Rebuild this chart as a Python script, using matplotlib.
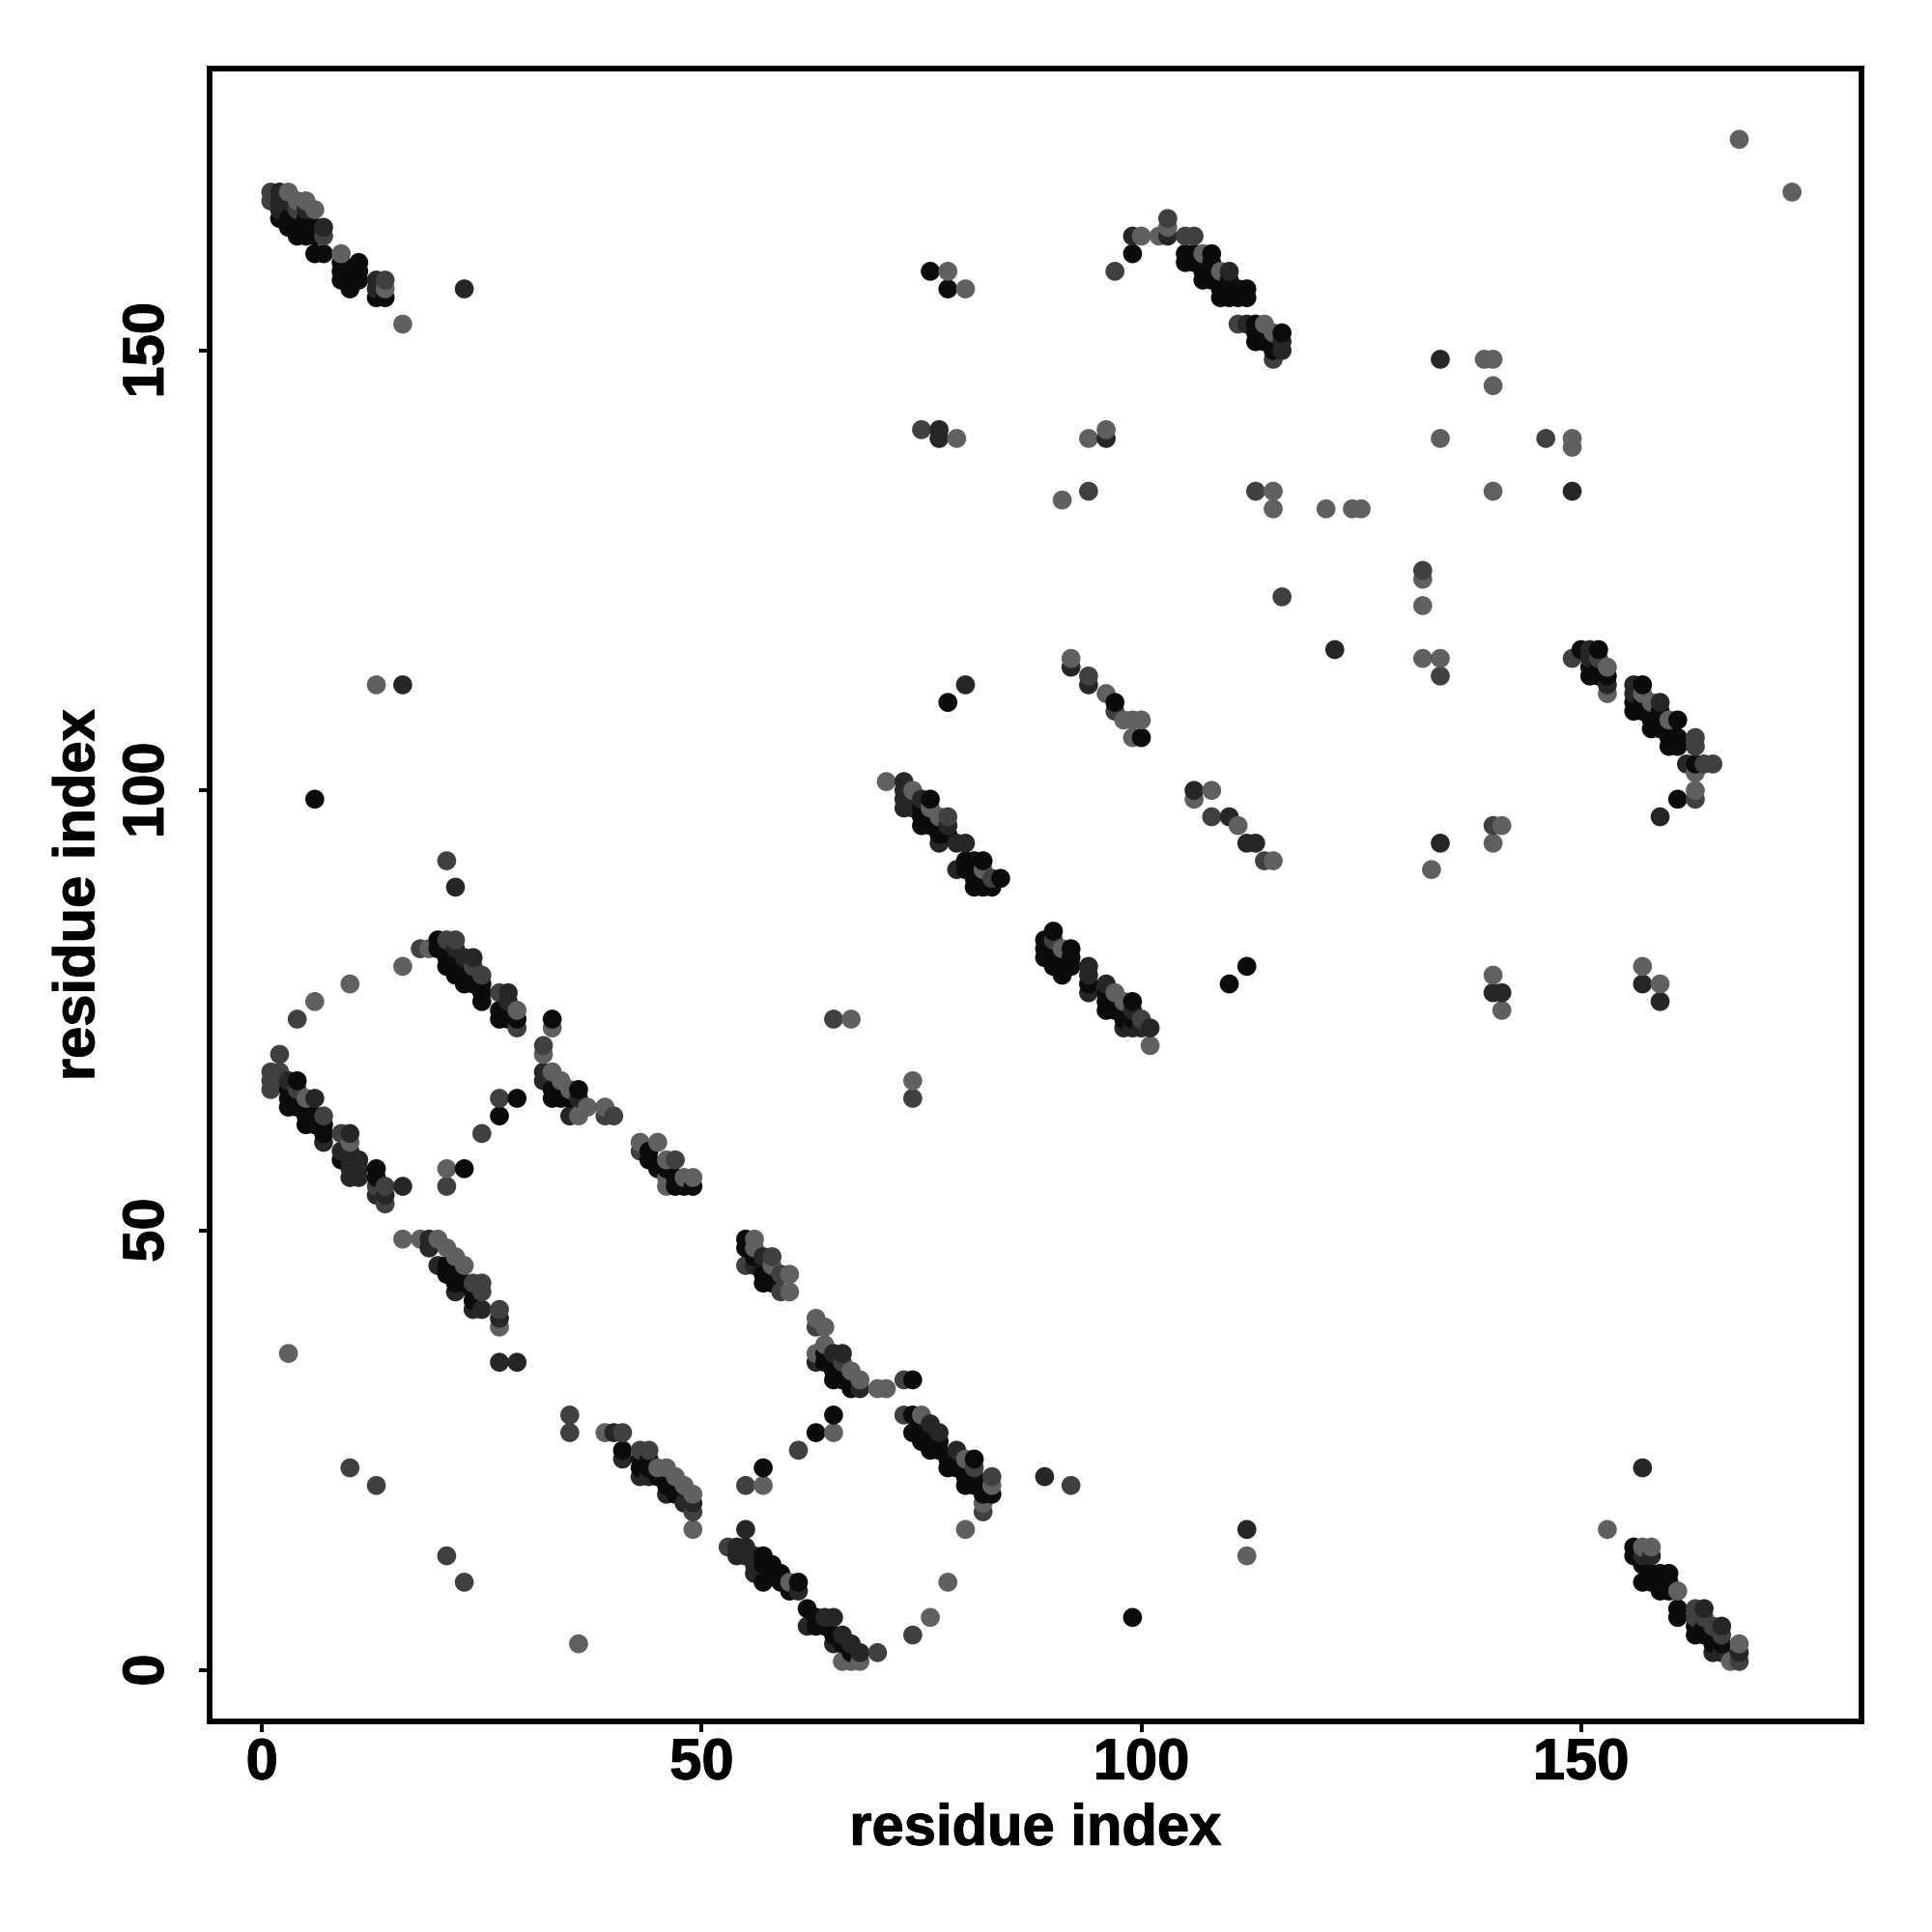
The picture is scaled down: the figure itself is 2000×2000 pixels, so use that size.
import numpy as np
import matplotlib
matplotlib.use('Agg')
import matplotlib.pyplot as plt
import matplotlib.patheffects as pe

plt.rcParams['font.family'] = ['Liberation Sans', 'DejaVu Sans']

# contacts (i, j), grouped by grey level
black = [(2,165),(3,165),(3,164),(4,165),(4,164),(4,163),(5,165),(5,164),(5,163),(6,164),(6,163),
    (6,161),(7,161),(9,160),(9,159),(9,158),(10,159),(10,158),(10,157),(11,160),(11,159),(11,158),
    (13,156),(14,156),(76,159),(78,157),(97,110),(99,161),(100,106),(105,161),(105,160),(106,161),(106,160),
    (107,160),(107,159),(107,158),(108,161),(108,160),(108,159),(108,158),(109,158),(109,157),(109,156),
    (110,158),(110,157),(110,156),(111,157),(111,156),(112,157),(112,156),(113,153),(113,152),(113,151),
    (114,152),(114,151),(115,151),(115,150),(116,152),
    (75,98),(75,97),(75,96),(76,99),(76,97),(76,96),(77,96),(77,95),(78,95),(80,92),(81,92),(82,92),
    (80,91),(81,91),(81,90),(82,90),(81,89),(82,89),(83,89),(84,90),
    (89,83),(89,82),(89,81),(90,84),(90,82),(90,81),(90,80),(91,81),(91,80),(91,79),(92,82),(92,81),(92,80),
    (94,78),(96,77),(96,76),(96,75),(97,76),(97,75),(98,75),(98,74),(99,76),(99,74),
    (110,78),(112,80),(78,110),(6,99),
    (150,116),(152,116),(151,114),(151,113),(152,114),(152,113),(153,113),
    (156,110),(156,109),(157,110),(157,109),(157,112),(158,109),(158,108),(158,107),(159,109),(159,107),
    (160,107),(160,106),(160,105),(161,108),(161,106),(161,105),(163,103),(161,99),
    (20,83),(20,82),(21,82),(21,81),(21,80),(22,81),(22,80),(22,79),(23,80),(23,79),(23,78),(24,79),(24,78),
    (25,78),(25,77),(25,76),(27,75),(27,74),(28,75),(28,74),(29,74),(33,74),
    (3,66),(3,65),(3,64),(4,67),(4,65),(4,64),(5,64),(5,63),(5,62),(6,63),(6,62),(7,62),(7,61),(9,58),
    (13,57),(13,56),(29,65),(27,63),(23,57),
    (33,66),(33,65),(34,66),(34,65),(35,65),(36,66),(44,59),(44,58),(45,57),(46,57),(47,56),(47,55),(48,55),(49,55),
    (21,46),(21,45),(22,45),(22,44),(23,44),(24,42),(24,43),
    (55,49),(55,48),(56,47),(57,45),(57,44),(58,45),(58,44),(64,36),(64,35),(65,35),(65,34),(65,33),(66,34),(66,33),(67,32),
    (74,33),(65,29),(63,27),(57,23),
    (41,25),(43,24),(43,23),(44,24),(44,23),(45,22),(46,21),(47,20),(47,21),
    (74,29),(74,27),(75,28),(75,27),(75,26),(76,26),(76,25),(77,26),(77,25),(78,24),(78,23),(79,24),(79,23),
    (80,23),(80,22),(80,21),(81,24),(81,22),(81,21),(82,21),(82,20),(83,20),(99,6),
    (57,13),(57,12),(58,12),(58,11),(59,11),(59,10),(57,10),(60,9),(61,10),(62,7),(63,6),(63,5),(64,5),(65,4),(66,3),(67,2),
    (156,14),(156,13),(157,12),(157,10),(158,11),(158,10),(159,11),(159,10),(159,9),(160,11),(160,10),(160,9),
    (161,7),(161,6),(163,5),(163,4),(164,5),(164,4),(165,4),(165,3),(166,3)]

dark = [(2,168),(2,167),(2,166),(3,167),(5,166),(7,164),(13,158),(13,157),
    (99,163),(103,163),(110,159),(112,153),(116,151),(116,150),(134,149),(77,141),(77,140),(96,140),
    (149,134),(122,116),(16,112),(80,112),(92,114),(94,112),(106,100),(110,97),(112,94),(113,94),
    (134,94),(22,89),(73,101),(73,100),(73,99),(73,98),(74,99),(74,98),(75,99),(78,96),
    (77,94),(79,94),(80,94),(79,91),(94,80),(94,79),(94,77),(96,78),(99,75),(100,73),(101,73),(98,73),(99,73),
    (151,116),(151,115),(153,112),(156,112),(156,111),(159,110),(162,103),(159,97),
    (22,82),(23,81),(24,81),(28,77),(28,76),(3,67),(6,65),(10,61),(7,60),(9,59),(10,59),(10,58),(10,57),(11,58),(11,57),(11,56),(10,56),
    (13,54),(14,54),(16,55),(32,68),(32,67),(36,65),(35,63),(19,49),(19,48),(20,46),(22,43),(24,41),(25,41),(27,40),
    (23,157),(140,77),(141,77),(157,78),(159,76),(89,22),(112,16),(157,23),(55,16),(27,35),(29,35),
    (40,27),(41,24),(43,22),(44,22),(46,20),(48,19),(49,19),(63,35),(66,36),(65,36),(68,32),
    (57,47),(56,46),
    (76,28),(77,27),(79,25),(54,14),(54,13),(55,14),(55,13),(56,13),(56,12),(56,11),(61,9),(62,5),(64,6),(65,6),
    (65,3),(66,4),(67,3),(68,2),(158,13),(164,7),(166,5),(165,2),(166,2),(168,2),(157,13)]

mid = [(1,168),(1,167),(7,163),(14,158),(4,166),(97,159),(105,163),(106,163),(111,153),(115,149),(103,165),
    (75,141),(94,134),(113,134),(146,140),(132,125),(116,122),(134,113),(94,113),(97,109),(108,97),(114,92),
    (78,97),(83,90),(90,83),(100,74),(149,115),(152,115),(163,106),(163,105),(164,103),(165,103),
    (163,99),(21,92),(18,82),(21,83),(22,83),(24,80),(25,79),(27,77),(29,73),(140,96),
    (2,70),(1,68),(2,68),(1,67),(1,66),(2,67),(4,66),(7,63),(9,61),(13,55),(14,55),(14,53),(4,74),(65,74),
    (27,65),(25,61),(21,55),(74,65),(32,71),(39,63),(40,63),(43,59),(47,58),(24,44),(25,44),(25,43),(27,41),
    (55,46),(59,43),(58,47),(63,39),(66,35),(35,29),(35,27),(41,27),(43,25),(44,25),(49,18),(61,25),(55,21),(73,29),
    (81,23),(83,22),(82,18),(92,21),(10,23),(13,21),(21,13),(23,10),(53,14),(74,4),
    (73,33),(163,7),(163,6),(164,6),(165,5),(168,1),(166,4),(70,2),(59,45)]

light = [(3,168),(4,167),(5,167),(6,166),(9,161),(14,157),(16,153),(100,163),(102,163),(103,164),(107,161),
    (109,159),(114,153),(115,152),(78,159),(80,157),(168,174),(174,168),
    (139,149),(140,149),(140,146),(79,140),(94,140),(96,141),(134,140),(149,140),(149,139),(91,133),(115,134),(115,132),
    (121,132),(124,132),(125,132),(140,134),(132,124),(132,121),(132,115),(134,115),(13,112),(92,115),(96,111),
    (98,108),(99,108),(100,108),(99,106),(106,99),(108,100),(111,96),(115,92),(133,91),(141,96),(140,94),
    (71,101),(74,100),(76,98),(77,97),(82,91),(91,82),(97,77),(98,76),(101,71),(153,114),(153,111),(157,111),(158,110),
    (160,108),(163,102),(163,100),(19,82),(16,80),(10,78),(6,76),(29,75),(33,73),(140,79),(141,75),(157,80),(159,78),
    (67,74),(74,67),(21,57),(5,65),(10,60),(32,70),(33,68),(34,67),(35,66),(36,63),(37,64),(39,64),(43,60),(45,60),(46,58),
    (46,55),(48,56),(49,56),(46,56),(16,49),(18,49),(20,49),(21,48),(22,47),(23,46),(27,39),(3,36),
    (56,49),(56,48),(58,46),(60,45),(60,43),(63,40),(64,39),(64,37),(63,36),(67,34),(68,33),(70,32),(71,32),
    (39,27),(45,23),(46,23),(47,22),(48,21),(49,20),(49,16),(65,27),(57,21),(75,29),(80,24),(83,21),(82,19),(80,16),
    (36,3),(112,13),(153,16),(60,10),(76,6),(78,10),(161,9),(157,14),(158,14),(168,3),(167,1),(66,1),(67,1),(68,1)]

grey_levels = ['#0b0b0b', '#262626', '#404040', '#606060']
tick_vals = [0, 50, 100, 150]

pts = []
cols = []
for grp, g in zip([black, dark, mid, light], grey_levels):
    for p in grp:
        pts.append(p)
        cols.append(g)
pts = np.array(pts)
cols = np.array(cols)

# original draws in order of i then j, so later contacts sit on top
order = np.lexsort((pts[:, 1], pts[:, 0]))
pts = pts[order]
cols = cols[order]

fig = plt.figure(figsize=(20, 20), dpi=100)
ax = fig.add_axes([217/2000, 1-1782/2000, (1927-217)/2000, (1782-71)/2000])
ax.scatter(pts[:, 0], pts[:, 1], c=cols, s=200, linewidths=0)

ax.set_xlim(-5.96, 181.9)
ax.set_ylim(-5.82, 182.04)
ax.set_xticks(tick_vals)
ax.set_yticks(tick_vals)
ax.tick_params(axis='both', length=8, width=2.9, labelsize=43)
ax.tick_params(axis='x', pad=4)
ax.tick_params(axis='y', pad=18)
stroke = [pe.withStroke(linewidth=0.8, foreground='black')]
for lab in ax.get_xticklabels():
    lab.set_fontweight('bold')
    lab.set_path_effects(stroke)
for lab in ax.get_yticklabels():
    lab.set_fontweight('bold')
    lab.set_rotation(90)
    lab.set_va('center')
    lab.set_path_effects(stroke)
for s in ax.spines.values():
    s.set_linewidth(4.2)

ax.set_xlabel('residue index', fontsize=43, fontweight='bold', path_effects=stroke)
ax.set_ylabel('residue index', fontsize=43, fontweight='bold', path_effects=stroke)
ax.xaxis.set_label_coords(0.5, -0.0495)
ax.yaxis.set_label_coords(-0.0630, 0.5)

fig.savefig('out.png')
